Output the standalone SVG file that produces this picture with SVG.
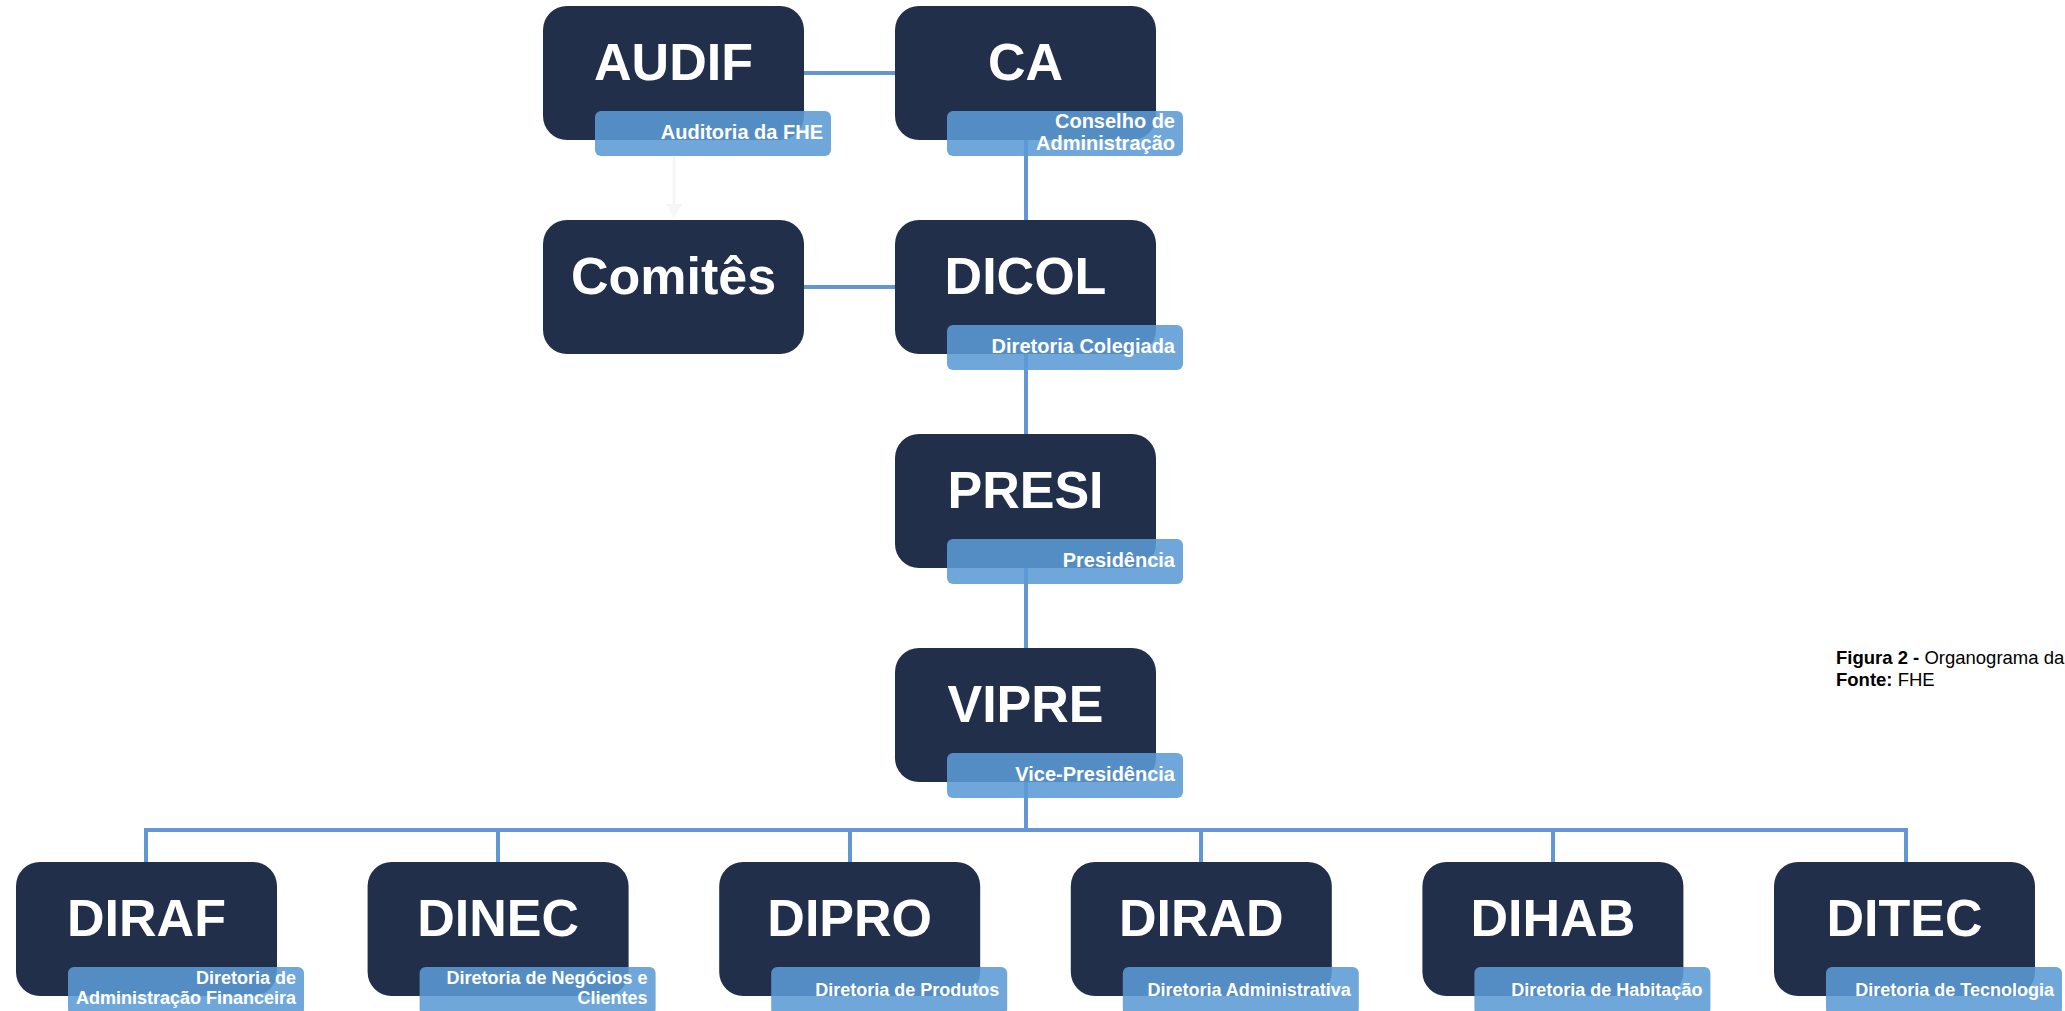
<svg xmlns="http://www.w3.org/2000/svg" width="2065" height="1011" viewBox="0 0 2065 1011">
<style>
.box{fill:#222F4A}
.lbl{fill:#5B9BD5;fill-opacity:0.88}
.t{font-family:"Liberation Sans",Arial,sans-serif;font-weight:bold;fill:#FFFFFF;font-size:52px;text-anchor:middle}
.s{font-family:"Liberation Sans",Arial,sans-serif;font-weight:bold;fill:#FFFFFF;font-size:20px;text-anchor:end}
.sb{font-family:"Liberation Sans",Arial,sans-serif;font-weight:bold;fill:#FFFFFF;font-size:18px;text-anchor:end}
.c{fill:none;stroke:#6297D3;stroke-width:4}
.cap{font-family:"Liberation Sans",Arial,sans-serif;font-size:18.5px;fill:#000000}
</style>
<rect width="2065" height="1011" fill="#FFFFFF"/>
<g id="connectors">
<line class="c" x1="673" y1="73" x2="1026" y2="73"/>
<line class="c" x1="673" y1="287" x2="1026" y2="287"/>
<line class="c" x1="1026" y1="73" x2="1026" y2="830"/>
<polyline class="c" points="146,862 146,830 1906,830 1906,862"/>
<line class="c" x1="498" y1="830" x2="498" y2="862"/>
<line class="c" x1="850" y1="830" x2="850" y2="862"/>
<line class="c" x1="1201" y1="830" x2="1201" y2="862"/>
<line class="c" x1="1553" y1="830" x2="1553" y2="862"/>
<line x1="674" y1="156" x2="674" y2="208" stroke="#F6F6F6" stroke-width="3"/>
<polygon points="666,204 682,204 674,218" fill="#F7F7F7"/>
</g>
<g id="AUDIF">
<rect class="box" x="543" y="6" width="261" height="134" rx="24"/>
<text class="t" x="673.5" y="80">AUDIF</text>
<rect class="lbl" x="595" y="111" width="236" height="45" rx="6"/>
<text class="s" x="823" y="139">Auditoria da FHE</text>
</g>
<g id="CA">
<rect class="box" x="895" y="6" width="261" height="134" rx="24"/>
<text class="t" x="1025.5" y="80">CA</text>
<rect class="lbl" x="947" y="111" width="236" height="45" rx="6"/>
<text class="s" x="1175" y="128">Conselho de</text>
<text class="s" x="1175" y="150">Administração</text>
</g>
<g id="Comites">
<rect class="box" x="543" y="220" width="261" height="134" rx="24"/>
<text class="t" x="673.5" y="294">Comitês</text>
</g>
<g id="DICOL">
<rect class="box" x="895" y="220" width="261" height="134" rx="24"/>
<text class="t" x="1025.5" y="294">DICOL</text>
<rect class="lbl" x="947" y="325" width="236" height="45" rx="6"/>
<text class="s" x="1175" y="353">Diretoria Colegiada</text>
</g>
<g id="PRESI">
<rect class="box" x="895" y="434" width="261" height="134" rx="24"/>
<text class="t" x="1025.5" y="508">PRESI</text>
<rect class="lbl" x="947" y="539" width="236" height="45" rx="6"/>
<text class="s" x="1175" y="567">Presidência</text>
</g>
<g id="VIPRE">
<rect class="box" x="895" y="648" width="261" height="134" rx="24"/>
<text class="t" x="1025.5" y="722">VIPRE</text>
<rect class="lbl" x="947" y="753" width="236" height="45" rx="6"/>
<text class="s" x="1175" y="781">Vice-Presidência</text>
</g>
<g id="DIRAF">
<rect class="box" x="16" y="862" width="261" height="134" rx="24"/>
<text class="t" x="146.5" y="936">DIRAF</text>
<rect class="lbl" x="68" y="967" width="236" height="48" rx="6"/>
<text class="sb" x="296" y="984">Diretoria de</text>
<text class="sb" x="296" y="1004">Administração Financeira</text>
</g>
<g id="DINEC">
<rect class="box" x="367.6" y="862" width="261" height="134" rx="24"/>
<text class="t" x="498.1" y="936">DINEC</text>
<rect class="lbl" x="419.6" y="967" width="236" height="48" rx="6"/>
<text class="sb" x="647.6" y="984">Diretoria de Negócios e</text>
<text class="sb" x="647.6" y="1004">Clientes</text>
</g>
<g id="DIPRO">
<rect class="box" x="719.2" y="862" width="261" height="134" rx="24"/>
<text class="t" x="849.7" y="936">DIPRO</text>
<rect class="lbl" x="771.2" y="967" width="236" height="48" rx="6"/>
<text class="sb" x="999.2" y="996">Diretoria de Produtos</text>
</g>
<g id="DIRAD">
<rect class="box" x="1070.8" y="862" width="261" height="134" rx="24"/>
<text class="t" x="1201.3" y="936">DIRAD</text>
<rect class="lbl" x="1122.8" y="967" width="236" height="48" rx="6"/>
<text class="sb" x="1350.8" y="996">Diretoria Administrativa</text>
</g>
<g id="DIHAB">
<rect class="box" x="1422.4" y="862" width="261" height="134" rx="24"/>
<text class="t" x="1552.9" y="936">DIHAB</text>
<rect class="lbl" x="1474.4" y="967" width="236" height="48" rx="6"/>
<text class="sb" x="1702.4" y="996">Diretoria de Habitação</text>
</g>
<g id="DITEC">
<rect class="box" x="1774" y="862" width="261" height="134" rx="24"/>
<text class="t" x="1904.5" y="936">DITEC</text>
<rect class="lbl" x="1826" y="967" width="236" height="48" rx="6"/>
<text class="sb" x="2054" y="996">Diretoria de Tecnologia</text>
</g>
<g id="caption">
<text class="cap" x="1836" y="664"><tspan font-weight="bold">Figura 2 - </tspan>Organograma da</text>
<text class="cap" x="1836" y="686"><tspan font-weight="bold">Fonte: </tspan>FHE</text>
</g>
</svg>
